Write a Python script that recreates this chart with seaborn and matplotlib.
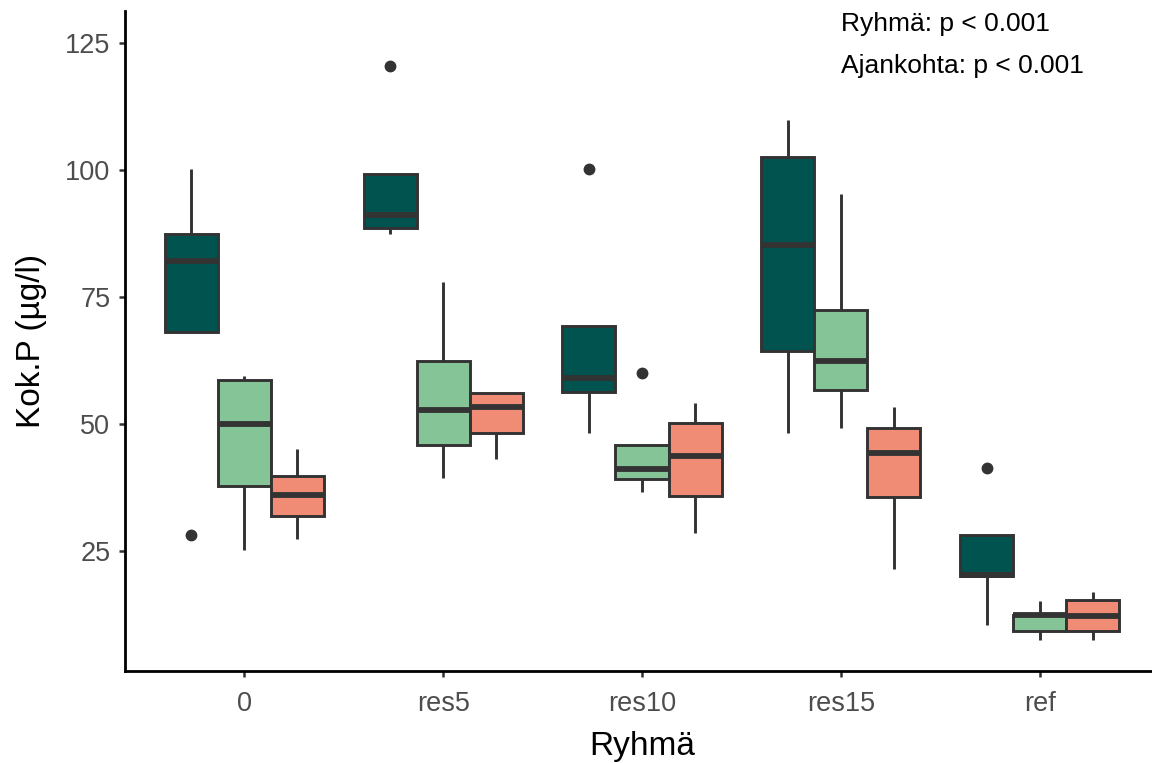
import numpy as np
import pandas as pd
import matplotlib
matplotlib.use("Agg")
import matplotlib.pyplot as plt
import seaborn as sns

# ---- data (5 values per box: min/outlier, Q1, median, Q3, max/outlier) ----
groups = ["0", "res5", "res10", "res15", "ref"]
times = ["1", "2", "3"]

vals_t1 = {
    "0":     [28.3, 68.1, 82.1, 87.4, 100.1],
    "res5":  [87.4, 88.5, 91.1, 99.1, 120.3],
    "res10": [48.3, 56.4, 59.1, 69.3, 100.1],
    "res15": [48.3, 64.4, 85.2, 102.6, 109.7],
    "ref":   [10.5, 20.1, 20.3, 28.3, 41.3],
}
vals_t2 = {
    "0":     [25.2, 37.9, 50.1, 58.7, 59.5],
    "res5":  [39.5, 46.0, 52.8, 62.5, 77.9],
    "res10": [36.6, 39.3, 41.1, 46.0, 60.1],
    "res15": [49.3, 56.8, 62.5, 72.5, 95.2],
    "ref":   [7.5, 9.3, 12.5, 12.5, 15.2],
}
vals_t3 = {
    "0":     [27.5, 31.9, 36.0, 39.9, 45.2],
    "res5":  [43.2, 48.3, 53.4, 56.2, 56.2],
    "res10": [28.7, 35.8, 43.8, 50.3, 54.2],
    "res15": [21.5, 35.6, 44.4, 49.3, 53.4],
    "ref":   [7.5, 9.3, 12.3, 15.4, 17.0],
}
annot_lines = ["Ryhmä: p < 0.001", "Ajankohta: p < 0.001"]

rows = []
for t, d in zip(times, [vals_t1, vals_t2, vals_t3]):
    for g in groups:
        for v in d[g]:
            rows.append({"Ryhmä": g, "Ajankohta": t, "value": v})
df = pd.DataFrame(rows)

palette = ["#01534F", "#85C497", "#F08C76"]

sns.set_theme(style="ticks")
plt.rcParams["font.family"] = ["Liberation Sans", "DejaVu Sans"]

fig = plt.figure(figsize=(11.52, 7.63), dpi=100)
ax = fig.add_axes([125 / 1152, 1 - 671 / 763, (1159 - 125) / 1152, (671 - 11) / 763])

edge = "#333333"
sns.boxplot(
    data=df, x="Ryhmä", y="value", hue="Ajankohta", order=groups, hue_order=times,
    palette=palette, saturation=1, width=0.8, gap=0, linecolor=edge, linewidth=2.1,
    showcaps=False, whis=1.5, legend=False, ax=ax,
    medianprops=dict(color=edge, linewidth=4.2),
    flierprops=dict(marker="o", markerfacecolor=edge, markeredgecolor=edge, markersize=7.5),
)

ax.set_xlim(-0.6, 4.6)
ax.set_ylim(1.5, 131.2)
ax.set_yticks([25, 50, 75, 100, 125])
sns.despine(ax=ax)
for s in ["left", "bottom"]:
    ax.spines[s].set_linewidth(2.0)
    ax.spines[s].set_color("black")
ax.tick_params(axis="both", length=4.5, width=1.8, color="#333333",
               labelsize=19.5, labelcolor="#4D4D4D")
ax.tick_params(axis="y", pad=6)
ax.tick_params(axis="x", pad=10)
ax.set_xlabel("Ryhmä", fontsize=24, color="black", labelpad=10)
ax.set_ylabel("Kok.P (µg/l)", fontsize=24, color="black", labelpad=13)

ax.text(3.0, 128.7, annot_lines[0], fontsize=19, color="black", ha="left", va="center")
ax.text(3.0, 120.4, annot_lines[1], fontsize=19, color="black", ha="left", va="center")

fig.savefig("out.png", dpi=100)
